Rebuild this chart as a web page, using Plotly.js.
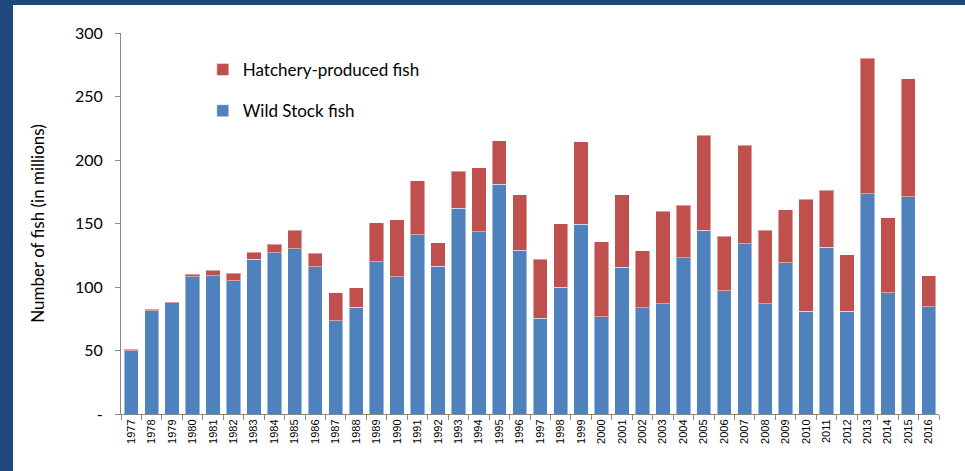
<!DOCTYPE html>
<html>
<head>
<meta charset="utf-8">
<script src="https://cdn.plot.ly/plotly-3.0.1.min.js"></script>
<style>
  html, body { margin: 0; padding: 0; background: #ffffff; }
  #frame { width: 952px; height: 466px; border-top: 5px solid #1F497D; border-left: 13px solid #1F497D; background: #fff; }
  #chart { width: 952px; height: 466px; }
</style>
</head>
<body>
<div id="frame"><div id="chart"></div></div>
<script>
const years = ["1977","1978","1979","1980","1981","1982","1983","1984","1985","1986",
               "1987","1988","1989","1990","1991","1992","1993","1994","1995","1996",
               "1997","1998","1999","2000","2001","2002","2003","2004","2005","2006",
               "2007","2008","2009","2010","2011","2012","2013","2014","2015","2016"];
const wildStock = [50, 81.5, 87.5, 108, 109, 105, 122, 127, 130, 116,
                   73.5, 84, 120, 108, 141, 116.5, 162, 143.5, 181, 129,
                   75.5, 100, 149.5, 76.5, 115.5, 83.5, 87, 123, 144.5, 97,
                   134, 87, 119, 81, 131.5, 81, 173.5, 95.5, 171, 84.5];
const hatchery = [1, 1, 1, 2, 4, 6, 5.5, 6.5, 14.5, 10.5,
                  22, 15.5, 30.5, 45, 42.5, 18.5, 29, 50.5, 34, 43.5,
                  46.5, 50, 65, 59, 57, 45, 72.5, 41.5, 75, 43,
                  77.5, 57.5, 42, 88, 44.5, 44.5, 106.5, 59, 93, 24.5];
const yTickVals = [0, 50, 100, 150, 200, 250, 300];
const yTickText = ["-", "50", "100", "150", "200", "250", "300"];

const traces = [
  { type: "bar", name: "Wild Stock fish", x: years, y: wildStock, legendgroup: "w", legendrank: 2,
    marker: { color: "#4F81BD", line: { color: "rgba(255,255,255,0.45)", width: 1 } } },
  { type: "bar", name: "Hatchery-produced fish", x: years, y: hatchery, legendgroup: "h", legendrank: 1,
    marker: { color: "#C0504D", line: { color: "rgba(255,255,255,0.45)", width: 1 } } }
];

const layout = {
  width: 952, height: 466,
  margin: { l: 108, r: 26, t: 28, b: 57 },
  paper_bgcolor: "#ffffff", plot_bgcolor: "#ffffff",
  barmode: "stack", bargap: 0.3,
  font: { family: "Lato, sans-serif", color: "#000" },
  showlegend: true,
  legend: { x: 0.1, y: 0.95, xanchor: "left", yanchor: "top",
            traceorder: "grouped", tracegroupgap: 16,
            font: { family: "Lato, sans-serif", size: 17, color: "#000" },
            bgcolor: "rgba(0,0,0,0)" },
  xaxis: { type: "category", tickangle: -90, ticks: "outside", tickson: "boundaries",
           ticklen: 5, tickcolor: "#888", showline: true, linecolor: "#888", linewidth: 1,
           showgrid: false, zeroline: false,
           tickfont: { family: "Liberation Sans, Arial, sans-serif", size: 11, color: "#000" } },
  yaxis: { range: [0, 300], tickvals: yTickVals, ticktext: yTickText, ticks: "outside",
           ticklen: 5, tickcolor: "#888", showline: true, linecolor: "#888", linewidth: 1,
           showgrid: false, zeroline: false, ticklabelstandoff: 9,
           tickfont: { family: "Lato, sans-serif", size: 16, color: "#000" },
           title: { text: "Number of fish (in millions)", standoff: 26,
                    font: { family: "Lato, sans-serif", size: 17, color: "#000" } } }
};

Plotly.newPlot("chart", traces, layout, { displayModeBar: false, staticPlot: true });
</script>
</body>
</html>
